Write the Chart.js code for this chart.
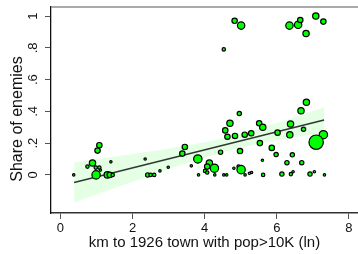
<!DOCTYPE html>
<html>
<head>
<meta charset="utf-8">
<script src="https://cdn.jsdelivr.net/npm/chart.js@4.4.1/dist/chart.umd.min.js"></script>
<style>
html,body{margin:0;padding:0;background:#fff;}
#wrap{width:358px;height:254px;position:relative;}
</style>
</head>
<body>
<div id="wrap"><canvas id="c" width="358" height="254"></canvas></div>
<script>
// ---- data ----
const distLn = [4.83,5.01,4.53,6.35,6.59,6.65,7.08,7.29,6.81,6.82,6.67,
  4.96,4.70,5.51,5.61,6.38,4.57,4.63,4.84,5.11,5.29,6.02,6.36,6.74,7.29,7.09,5.53,5.86,4.98,4.44,5.98,6.43,3.81,5.60,6.28,6.69,3.63,4.13,4.07,4.27,4.01,4.07,4.81,4.94,5.01,5.24,5.30,5.12,3.83,4.28,4.53,4.61,5.62,6.14,6.39,6.45,6.92,7.04,7.32,
  0.37,1.08,1.03,0.89,0.75,0.98,1.08,1.11,0.99,1.30,1.37,1.45,1.40,2.35,2.42,2.50,2.60,2.76,2.99,3.45,3.38];
const shareEnemies = [0.97,0.94,0.79,0.94,0.945,0.975,1.0,0.965,0.89,0.457,0.404,
  0.386,0.325,0.325,0.30,0.32,0.28,0.24,0.245,0.253,0.262,0.266,0.253,0.287,0.253,0.206,0.20,0.17,0.15,0.143,0.128,0.126,0.10,0.092,0.077,0.077,0.057,0.074,0.052,0.042,0.025,0.015,0.042,0.052,0.033,0.01,0.015,0,0,0,0,0,0,0.005,0.005,0.02,0.005,0.02,0,
  0,0.187,0.153,0.075,0.052,0.046,0.046,0.03,0,0,0,0,0.082,0.10,0,0,0,0.025,0.048,0.176,0.134];
const weight = [9,16,4,16,16,9,12,9,12,12,12,
  6,12,9,12,12,9,9,9,9,9,9,12,6,20,56,9,9,9,6,6,6,20,2,6,6,2,12,9,20,4,4,2,4,20,2,2,2,2,2,2,2,4,6,4,2,6,1.5,2,
  2,9,9,12,4,4,4,2,20,12,9,4,2,2,6,4,4,2,2,9,9];
const fitX = [0.38, 7.31];
const fitY = [-0.048, 0.346];
const bandX = [0.38, 1, 2, 3, 4, 4.8, 5.5, 6.5, 7.31];
const bandUpper = [0.078, 0.098, 0.131, 0.165, 0.206, 0.247, 0.29, 0.363, 0.428];
const bandLower = [-0.174, -0.124, -0.043, 0.037, 0.110, 0.161, 0.196, 0.237, 0.264];
const xTicks = [0, 2, 4, 6, 8];
const yTicks = [0, 0.2, 0.4, 0.6, 0.8, 1];
const yTickLabels = ['0', '.2', '.4', '.6', '.8', '1'];
const xTitle = 'km to 1926 town with pop>10K (ln)';
const yTitle = 'Share of enemies';

const FONT = "'Liberation Sans', Arial, sans-serif";

const bubbles = distLn.map((x, i) => ({x: x, y: shareEnemies[i], w: weight[i]}));
const fitLine = fitX.map((x, i) => ({x: x, y: fitY[i]}));
const upper = bandX.map((x, i) => ({x: x, y: bandUpper[i]}));
const lower = bandX.map((x, i) => ({x: x, y: bandLower[i]}));

const decor = {
  id: 'decor',
  afterDraw(chart) {
    const ctx = chart.ctx;
    const a = chart.chartArea;
    const ys = chart.scales.y;
    ctx.save();
    // top border of plot region
    ctx.strokeStyle = '#8c8c8c';
    ctx.lineWidth = 1.5;
    ctx.beginPath();
    ctx.moveTo(a.left, a.top);
    ctx.lineTo(a.right, a.top);
    ctx.stroke();
    // rotated y tick labels (Stata style)
    ctx.fillStyle = '#111';
    ctx.font = '13px ' + FONT;
    ctx.textAlign = 'center';
    ctx.textBaseline = 'middle';
    yTicks.forEach((v, i) => {
      const py = ys.getPixelForValue(v);
      ctx.save();
      ctx.translate(33, py);
      ctx.rotate(-Math.PI / 2);
      ctx.fillText(yTickLabels[i], 0, 0);
      ctx.restore();
    });
    // y axis title
    ctx.font = '16px ' + FONT;
    ctx.save();
    ctx.translate(18, 119);
    ctx.rotate(-Math.PI / 2);
    ctx.fillText(yTitle, 0, 0);
    ctx.restore();
    ctx.restore();
  }
};

new Chart(document.getElementById('c'), {
  type: 'bubble',
  data: {
    datasets: [
      {
        type: 'bubble',
        data: bubbles,
        backgroundColor: '#00ff00',
        borderColor: '#000',
        borderWidth: 1.2,
        radius: (ctx) => { const d = ctx.raw; return d ? Math.max(Math.sqrt(d.w) - 0.3, 1.2) : 2; }
      },
      {
        type: 'line',
        data: fitLine,
        borderColor: '#2f3a32',
        borderWidth: 1.6,
        pointRadius: 0,
        fill: false
      },
      {
        type: 'line',
        data: upper,
        borderWidth: 0,
        borderColor: 'rgba(0,0,0,0)',
        pointRadius: 0,
        backgroundColor: 'rgba(0,255,0,0.1)',
        fill: '+1',
        tension: 0
      },
      {
        type: 'line',
        data: lower,
        borderWidth: 0,
        borderColor: 'rgba(0,0,0,0)',
        pointRadius: 0,
        fill: false,
        tension: 0
      }
    ]
  },
  options: {
    responsive: false,
    animation: false,
    devicePixelRatio: 1,
    layout: {autoPadding: false, padding: {top: 7, right: 0, left: 0, bottom: 0}},
    plugins: {legend: {display: false}, tooltip: {enabled: false}},
    scales: {
      x: {
        type: 'linear',
        min: -0.26,
        max: 8.25,
        afterBuildTicks: (s) => { s.ticks = xTicks.map(v => ({value: v})); },
        afterFit: (s) => { s.height = 41; s.paddingLeft = 0; s.paddingRight = 0; },
        grid: {drawOnChartArea: false, drawTicks: true, tickLength: 6, tickColor: '#555', lineWidth: 1},
        border: {display: true, color: '#333', width: 1.5},
        ticks: {color: '#111', font: {family: FONT, size: 13}, padding: 2, maxRotation: 0, autoSkip: false},
        title: {display: true, text: xTitle, color: '#111', font: {family: FONT, size: 15}, padding: {top: 0, bottom: 2}}
      },
      y: {
        type: 'linear',
        min: -0.24,
        max: 1.057,
        afterBuildTicks: (s) => { s.ticks = yTicks.map(v => ({value: v})); },
        afterFit: (s) => { s.width = 51; s.paddingTop = 0; s.paddingBottom = 0; },
        grid: {drawOnChartArea: false, drawTicks: true, tickLength: 6, tickColor: '#555', lineWidth: 1},
        border: {display: true, color: '#111', width: 1.3},
        ticks: {display: false},
        title: {display: false}
      }
    }
  },
  plugins: [decor]
});
</script>
</body>
</html>
